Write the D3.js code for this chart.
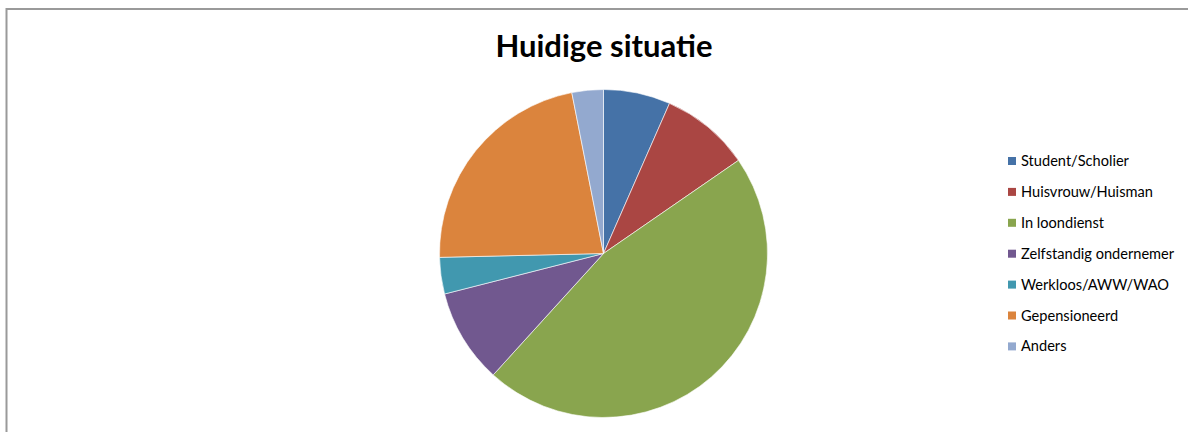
<!DOCTYPE html>
<html>
<head>
<meta charset="utf-8">
<script src="https://cdn.jsdelivr.net/npm/d3@7"></script>
<style>
  body { margin: 0; background: #fff; }
  text { font-family: Lato, "Open Sans", sans-serif; }
</style>
</head>
<body>
<div id="chart"></div>
<script>
// Data (share of respondents, %)
const categories = [
  "Student/Scholier",
  "Huisvrouw/Huisman",
  "In loondienst",
  "Zelfstandig ondernemer",
  "Werkloos/AWW/WAO",
  "Gepensioneerd",
  "Anders"
];
const values = [6.6, 8.8, 46.4, 9.3, 3.6, 22.3, 3.1];
const colors = ["#4572a7", "#aa4643", "#89a54e", "#71588f", "#4198af", "#db843d", "#93a9cf"];

const width = 1188;
const height = 432;

const svg = d3
  .select("#chart")
  .append("svg")
  .attr("width", width)
  .attr("height", height);

// Chart area border (only top and left are visible in the frame)
svg
  .append("rect")
  .attr("x", 6.5)
  .attr("y", 9)
  .attr("width", width + 20)
  .attr("height", height + 20)
  .attr("fill", "#fff")
  .attr("stroke", "#9a9a9a")
  .attr("stroke-width", 2);

// Title
svg
  .append("text")
  .attr("x", 604)
  .attr("y", 57)
  .attr("text-anchor", "middle")
  .style("font-size", "31px")
  .style("font-weight", "bold")
  .style("fill", "#000")
  .text("Huidige situatie");

// Pie
const cx = 603.5;
const cy = 253.5;
const radius = 164;

const pie = d3.pie().sort(null).value((d) => d.value);
const arc = d3.arc().innerRadius(0).outerRadius(radius);
const color = d3.scaleOrdinal().domain(categories).range(colors);

const data = categories.map((c, i) => ({ name: c, value: values[i] }));

svg
  .append("g")
  .attr("transform", `translate(${cx}, ${cy})`)
  .selectAll("path")
  .data(pie(data))
  .enter()
  .append("path")
  .attr("d", arc)
  .attr("fill", (d) => color(d.data.name))
  .attr("stroke", "#fff")
  .attr("stroke-width", 0.6);

// Legend
const legend = svg
  .append("g")
  .attr("transform", "translate(1008, 157)");

const item = legend
  .selectAll("g")
  .data(categories)
  .enter()
  .append("g")
  .attr("transform", (d, i) => `translate(0, ${i * 30.9})`);

item
  .append("rect")
  .attr("width", 8)
  .attr("height", 8)
  .attr("fill", (d) => color(d));

item
  .append("text")
  .attr("x", 13)
  .attr("y", 9)
  .style("font-size", "14.6px")
  .style("fill", "#000")
  .text((d) => d);
</script>
</body>
</html>
